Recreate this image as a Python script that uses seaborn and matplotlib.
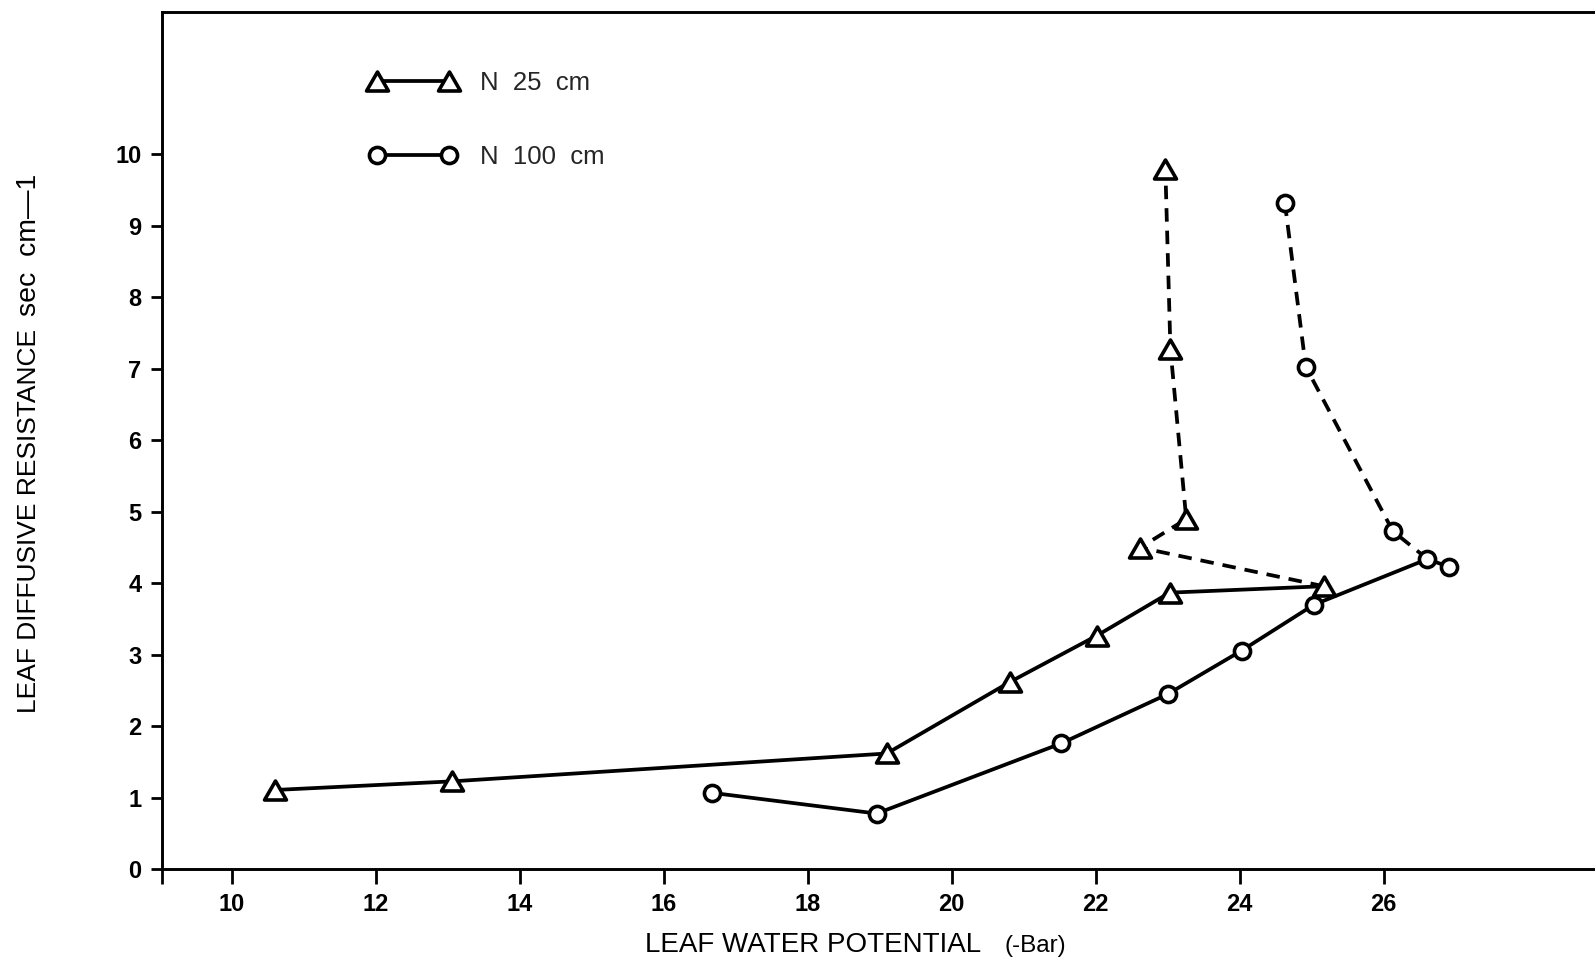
import matplotlib
matplotlib.use("Agg")
import matplotlib.pyplot as plt
from matplotlib.lines import Line2D
from matplotlib.markers import MarkerStyle
from matplotlib.path import Path
import seaborn as sns

# Leaf water potential (-bar) vs leaf diffusive resistance (sec cm-1)
# N 25 cm: rising branch (solid) and late branch (dashed)
n25_potential_rising = [10.61, 13.06, 19.10, 20.81, 22.02, 23.03, 25.17]
n25_resistance_rising = [1.11, 1.23, 1.62, 2.62, 3.27, 3.87, 3.96]
n25_potential_late = [25.17, 22.62, 23.26, 23.04, 22.97]
n25_resistance_late = [3.96, 4.50, 4.90, 7.28, 9.79]

# N 100 cm: rising branch (solid) and late branch (dashed)
n100_potential_rising = [16.67, 18.96, 21.52, 23.00, 24.03, 25.03, 26.61, 26.91]
n100_resistance_rising = [1.07, 0.78, 1.76, 2.45, 3.06, 3.70, 4.34, 4.23]
n100_potential_late = [26.61, 26.13, 24.92, 24.63]
n100_resistance_late = [4.34, 4.73, 7.03, 9.32]

series_labels = ["N  25  cm", "N  100  cm"]
x_ticks = [10, 12, 14, 16, 18, 20, 22, 24, 26]
y_ticks = [0, 1, 2, 3, 4, 5, 6, 7, 8, 9, 10]

sns.set_style("ticks")
plt.rcParams["font.family"] = ["Liberation Sans", "DejaVu Sans"]

W, H = 1595, 964
fig = plt.figure(figsize=(W / 100, H / 100), dpi=100)
ax_left, ax_bottom_px, ax_top_px = 161.7, 869.3, 11.5
ax = fig.add_axes([ax_left / W, (H - ax_bottom_px) / H,
                   1 - ax_left / W, (ax_bottom_px - ax_top_px) / H])

ink = "black"
line_w = 2.7
dash = (0, (3.6, 2.4))

# equilateral open triangle marker
tri_path = Path([(0, 0.866), (-1, -0.866), (1, -0.866), (0, 0.866)],
                [Path.MOVETO, Path.LINETO, Path.LINETO, Path.CLOSEPOLY])
tri = MarkerStyle(tri_path, joinstyle="miter")
circ = MarkerStyle("o")
tri_ms, circ_ms, edge_w = 15.8, 11.6, 2.6

# connecting lines
sns.lineplot(x=n25_potential_rising, y=n25_resistance_rising, sort=False,
             estimator=None, color=ink, lw=line_w, ax=ax)
sns.lineplot(x=n25_potential_late, y=n25_resistance_late, sort=False,
             estimator=None, color=ink, lw=line_w, linestyle=dash, ax=ax)
sns.lineplot(x=n100_potential_rising, y=n100_resistance_rising, sort=False,
             estimator=None, color=ink, lw=line_w, ax=ax)
sns.lineplot(x=n100_potential_late, y=n100_resistance_late, sort=False,
             estimator=None, color=ink, lw=line_w, linestyle=dash, ax=ax)

# open markers
sns.scatterplot(x=n25_potential_rising + n25_potential_late[1:],
                y=n25_resistance_rising + n25_resistance_late[1:],
                marker=tri, s=tri_ms ** 2, color="white", edgecolor=ink,
                linewidth=edge_w, zorder=4, ax=ax)
sns.scatterplot(x=n100_potential_rising + n100_potential_late[1:],
                y=n100_resistance_rising + n100_resistance_late[1:],
                marker=circ, s=circ_ms ** 2, color="white", edgecolor=ink,
                linewidth=edge_w, zorder=4, ax=ax)

# axes
ax.set_xlim(9.03, 9.03 + (W - ax_left) / 72.0)
ax.set_ylim(0, 12.0)
ax.set_xticks(x_ticks)
ax.set_xticklabels([str(t) for t in x_ticks])
ax.set_xticks([9.03], minor=True)
ax.set_yticks(y_ticks)
ax.set_yticklabels([str(t) for t in y_ticks])
ax.set_xlabel("")
ax.set_ylabel("")

for side in ("left", "bottom", "top"):
    ax.spines[side].set_visible(True)
    ax.spines[side].set_linewidth(2.1)
    ax.spines[side].set_color(ink)
ax.spines["right"].set_visible(False)

ax.tick_params(axis="x", which="both", direction="out", length=10.5, width=2.0,
               pad=6.8, labelsize=17, colors=ink)
ax.tick_params(axis="y", direction="out", length=8, width=2.0, pad=6.5,
               labelsize=17, colors=ink)
for lab in ax.get_xticklabels() + ax.get_yticklabels():
    lab.set_fontweight("bold")

# axis titles
fig.text(645 / W, 1 - 952 / H, "LEAF WATER POTENTIAL", fontsize=20,
         ha="left", va="baseline", color=ink)
fig.text(1005 / W, 1 - 952 / H, "(-Bar)", fontsize=17.5,
         ha="left", va="baseline", color=ink)
fig.text(36 / W, 1 - 713 / H, "LEAF DIFFUSIVE RESISTANCE", fontsize=19,
         rotation=90, rotation_mode="anchor", ha="left", va="baseline", color=ink)
fig.text(36 / W, 1 - 316 / H, "sec  cm\u20141", fontsize=20.5,
         rotation=90, rotation_mode="anchor", ha="left", va="baseline", color=ink)

# legend
handles = [
    Line2D([], [], color=ink, lw=line_w, marker=tri, ms=tri_ms,
           mfc="white", mec=ink, mew=edge_w),
    Line2D([], [], color=ink, lw=line_w, marker=circ, ms=circ_ms,
           mfc="white", mec=ink, mew=edge_w),
]
ax.legend(handles, series_labels, loc="upper left",
          bbox_to_anchor=(369.5 / W, 1 - 70.6 / H), bbox_transform=fig.transFigure,
          frameon=False, fontsize=18.5, numpoints=2, handlelength=3.4,
          handletextpad=0.9, labelspacing=1.95, borderpad=0, borderaxespad=0)

fig.savefig("out.png", dpi=100, facecolor="white")
